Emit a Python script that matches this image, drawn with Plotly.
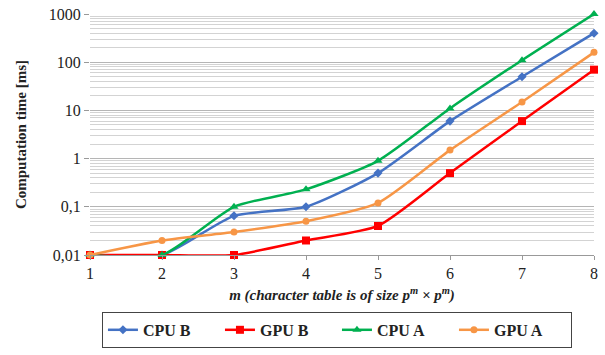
import plotly.graph_objects as go

m_values = [1, 2, 3, 4, 5, 6, 7, 8]
cpu_b = [0.01, 0.01, 0.065, 0.1, 0.5, 6, 50, 400]
gpu_b = [0.01, 0.01, 0.01, 0.02, 0.04, 0.5, 6, 70]
cpu_a = [0.01, 0.01, 0.1, 0.23, 0.9, 11, 110, 1000]
gpu_a = [0.01, 0.02, 0.03, 0.05, 0.12, 1.5, 15, 160]

series = [
    ("CPU B", cpu_b, "#4472C4", "diamond", 7),
    ("GPU B", gpu_b, "#FF0000", "square", 8),
    ("CPU A", cpu_a, "#00B050", "triangle-up", 8),
    ("GPU A", gpu_a, "#F79646", "circle", 7),
]

y_tickvals = [0.01, 0.1, 1, 10, 100, 1000]
y_ticktext = ["0,01", "0,1", "1", "10", "100", "1000"]

fig = go.Figure()
for name, vals, color, sym, size in series:
    fig.add_trace(go.Scatter(
        x=m_values, y=vals, name=name, mode="lines+markers",
        line=dict(color=color, width=2.5, shape="spline", smoothing=0.6),
        marker=dict(symbol=sym, size=size, color=color),
        cliponaxis=False,
    ))

font_family = "Liberation Serif, Times New Roman, serif"
fig.update_layout(
    width=605, height=355,
    margin=dict(l=90, r=11, t=14, b=100),
    paper_bgcolor="white", plot_bgcolor="white",
    font=dict(family=font_family, size=14, color="#222"),
    showlegend=True,
    legend=dict(
        orientation="h", x=0.49, xanchor="center",
        yref="container", y=0.02, yanchor="bottom",
        bordercolor="#444", borderwidth=1,
        font=dict(family=font_family, size=16, color="#222", weight="bold"),
        entrywidth=72, entrywidthmode="pixels", tracegroupgap=0,
    ),
    xaxis=dict(
        range=[1, 8], tickvals=m_values, showgrid=False, zeroline=False,
        automargin="height",
        showline=True, linecolor="#999", linewidth=1,
        ticks="outside", ticklen=4, tickcolor="#999",
        tickfont=dict(family=font_family, size=16),
        title=dict(
            text="<b><i>m (character table is of size p<sup>m</sup> × p<sup>m</sup>)</i></b>",
            font=dict(family=font_family, size=15), standoff=8,
        ),
    ),
    yaxis=dict(
        type="log", range=[-2, 3], tickvals=y_tickvals, ticktext=y_ticktext,
        automargin=False,
        showgrid=True, gridcolor="#B5B5B5", gridwidth=1,
        minor=dict(showgrid=True, dtick="D1", gridcolor="#D3D3D3", gridwidth=1),
        zeroline=False, showline=False,
        ticks="outside", ticklen=5, tickcolor="#999",
        tickfont=dict(family=font_family, size=16),
        title=dict(text="<b>Computation time [ms]</b>",
                   font=dict(family=font_family, size=15), standoff=18),
    ),
)

fig.write_html("out.html", config={"displayModeBar": False},
               post_script="document.body.style.margin='0';")
